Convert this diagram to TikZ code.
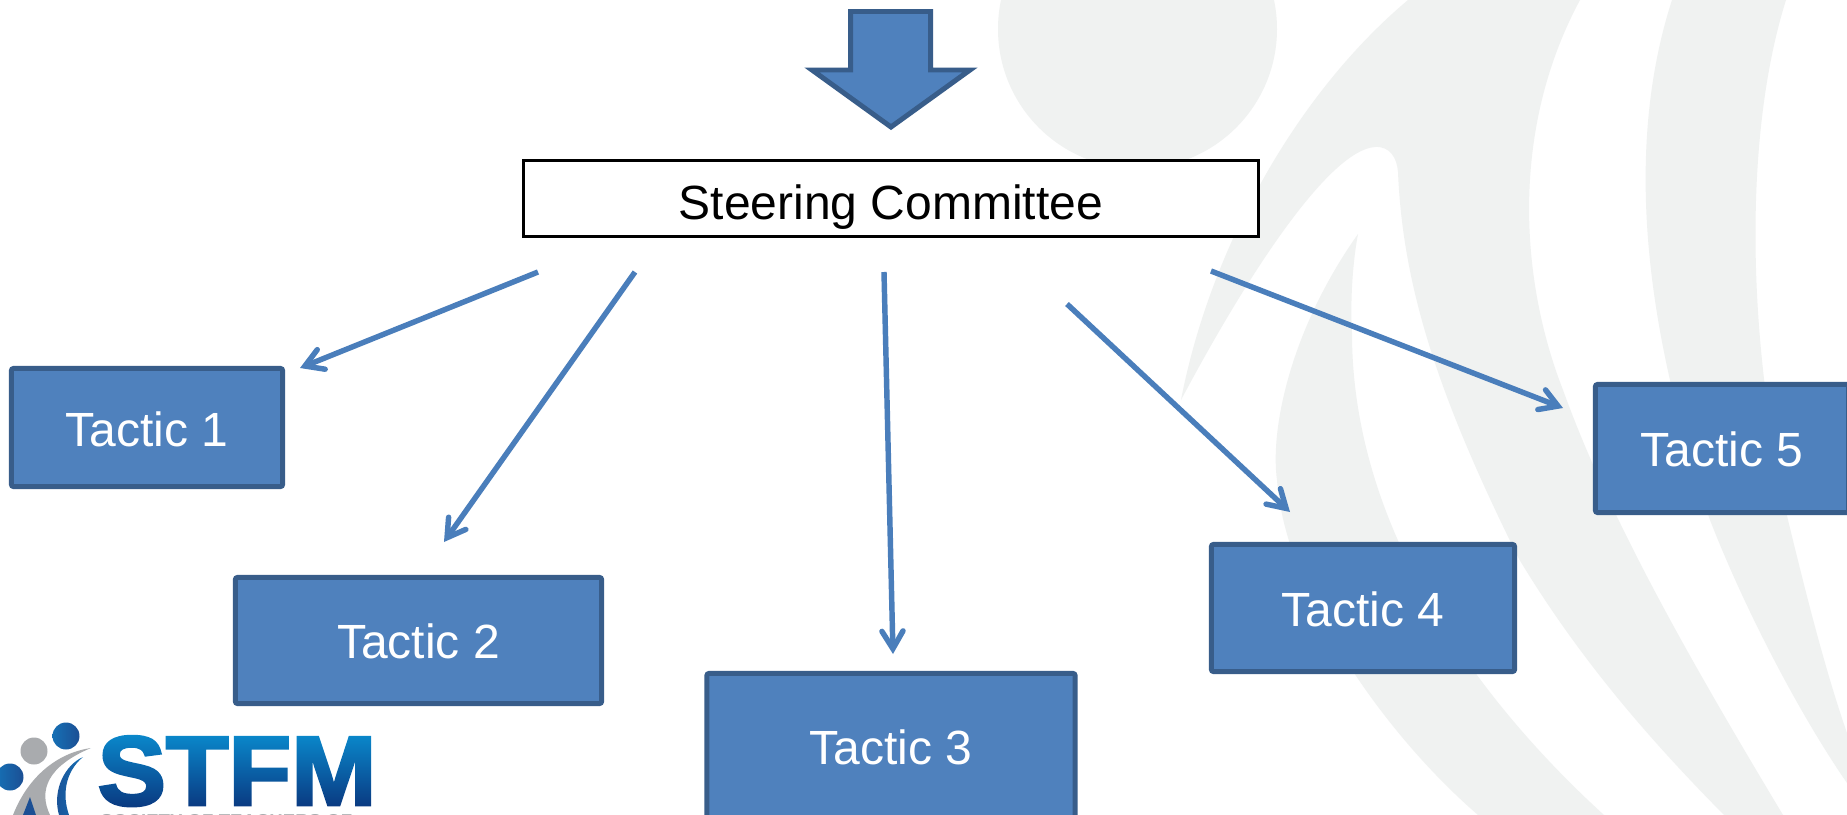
\documentclass[tikz,border=0pt]{standalone}
\usepackage{fontspec}
\usetikzlibrary{arrows.meta}
\setmainfont{Liberation Sans}
\newfontfamily\logofont[BoldFeatures={FakeBold=3,FakeStretch=1.04}]{Liberation Sans}
\definecolor{bgswoosh}{HTML}{F0F2F1}
\definecolor{tacfill}{HTML}{4F81BD}
\definecolor{tacline}{HTML}{385D8A}
\definecolor{arrowblue}{HTML}{4A7EBB}
\definecolor{logobase}{rgb}{0.04,0.22,0.50}
\definecolor{logogray}{HTML}{A9ABAE}
\definecolor{logoblue}{HTML}{1B4F94}
\definecolor{logolight}{HTML}{1670B5}
\tikzset{
  tactic/.style={draw=tacline,fill=tacfill,line width=1.42pt,rounded corners=0.6pt,text=white,
    font=\fontsize{13.65}{15}\selectfont,inner sep=0pt,outer sep=0pt,text height=10.5pt,text depth=0pt},
  steer/.style={draw=black,fill=white,line width=0.85pt,font=\fontsize{13.65}{15}\selectfont,inner sep=0pt,text height=11.8pt,text depth=0pt},
  link/.style={draw=arrowblue,line width=1.55pt,line cap=butt,-{Straight Barb[length=5pt,width=6pt,line width=1.55pt,line cap=round,line join=miter]}},
  swoosh/.style={fill=bgswoosh,draw=none},
  logodot/.style={left color=logolight,right color=logoblue},
}
\begin{document}
\begin{tikzpicture}[x=0.01cm,y=-0.01cm]
\useasboundingbox (0,0) rectangle (1847,815);
\begin{scope}
\clip (0,0) rectangle (1847,815);
\fill[white] (0,0) rectangle (1847,815);
% background
\fill[swoosh] (1137.5,29) circle[radius=139.5];
\fill[swoosh] (1408,0) .. controls (1295,95) and (1210,250) .. (1181,400)
  .. controls (1250,270) and (1330,150) .. (1375,147)
  .. controls (1390,146) and (1397,158) .. (1398,172)
  .. controls (1403,290) and (1440,400) .. (1519,559)
  .. controls (1580,660) and (1650,740) .. (1724,815)
  -- (1783,815)
  .. controls (1690,660) and (1610,520) .. (1563,390)
  .. controls (1520,280) and (1510,130) .. (1580,0) -- cycle;
\fill[swoosh] (1358,234) .. controls (1290,330) and (1270,430) .. (1277,480)
  .. controls (1285,590) and (1380,730) .. (1478,815)
  -- (1604,815)
  .. controls (1505,725) and (1352,550) .. (1352,333)
  .. controls (1350,300) and (1353,260) .. (1358,234) -- cycle;
\fill[swoosh] (1672,0) .. controls (1630,130) and (1635,300) .. (1710,520)
  .. controls (1745,610) and (1800,715) .. (1847,783)
  -- (1847,733)
  .. controls (1825,670) and (1805,590) .. (1788,520)
  .. controls (1745,330) and (1745,130) .. (1786,0) -- cycle;
% top block arrow
\draw[draw=tacline,fill=tacfill,line width=1.42pt,miter limit=10]
  (850.5,11.5) -- (930.5,11.5) -- (930.5,70) -- (970,70) -- (891,127) -- (812,70) -- (850.5,70) -- cycle;
% nodes
\node[steer,minimum width=7.35cm,minimum height=0.76cm] (sc) at (891,198.5) {Steering Committee};
\node[tactic,minimum width=2.71cm,minimum height=1.18cm,text height=11pt] (t1) at (147,427.5) {Tactic 1};
\node[tactic,minimum width=3.66cm,minimum height=1.26cm] (t2) at (418.5,640.5) {Tactic 2};
\node[tactic,minimum width=3.68cm,minimum height=1.47cm,text height=9.7pt] (t3) at (891,747) {Tactic 3};
\node[tactic,minimum width=3.03cm,minimum height=1.27cm] (t4) at (1363,608) {Tactic 4};
\node[tactic,minimum width=2.53cm,minimum height=1.28cm,text height=10pt] (t5) at (1722,448.5) {Tactic 5};
% connectors: free ends
\coordinate (a1s) at (538,272); \coordinate (a1e) at (300,368);
\coordinate (a2s) at (635,272); \coordinate (a2e) at (444,542);
\coordinate (a3s) at (884,272); \coordinate (a3e) at (893,654);
\coordinate (a4s) at (1067,304); \coordinate (a4e) at (1290,512);
\coordinate (a5s) at (1211,271); \coordinate (a5e) at (1563,408);
\draw[link] (a1s) -- (a1e);
\draw[link] (a2s) -- (a2e);
\draw[link] (a3s) -- (a3e);
\draw[link] (a4s) -- (a4e);
\draw[link] (a5s) -- (a5e);
% logo
\shade[logodot] (66,736) circle[radius=13.5];
\fill[logogray] (34,751) circle[radius=13.5];
\shade[logodot] (10,777) circle[radius=13.5];
\fill[logogray] (91,748) .. controls (62,752) and (30,772) .. (13,815) -- (50,815)
  .. controls (38,790) and (48,766) .. (91,748) -- cycle;
\shade[left color=logoblue,right color=logolight] (83,757) .. controls (65,765) and (52,790) .. (59,815) -- (69,815)
  .. controls (62,795) and (65,772) .. (83,757) -- cycle;
\fill[logoblue] (30,797) -- (23,815) -- (36,815) -- cycle;
\node[inner sep=0pt,anchor=base west,text=logobase,font=\logofont\bfseries\fontsize{28}{30}\selectfont] (logo) at (97,805) {STFM};
\begin{scope}[blend mode=screen]
\shade[top color={rgb:red,0;green,47;blue,69},bottom color=black] (90,733) rectangle (380,808);
\end{scope}
\node[inner sep=0pt,anchor=base west,text=logogray,font=\bfseries\fontsize{5.3}{7}\selectfont] (soc) at (100,827) {SOCIETY OF TEACHERS OF};
\end{scope}
\end{tikzpicture}
\end{document}
